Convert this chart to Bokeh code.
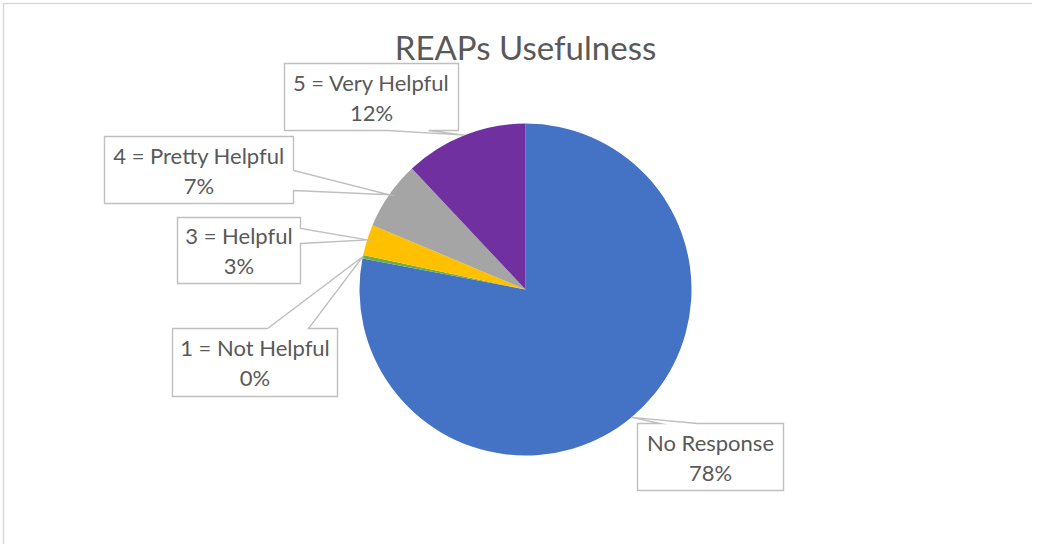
import math
from bokeh.plotting import figure
from bokeh.models import Range1d, ColumnDataSource, Label
from bokeh.embed import file_html
from bokeh.resources import INLINE
from bokeh.core.properties import value

# ---- data ----
categories = ["No Response", "1 = Not Helpful", "3 = Helpful", "4 = Pretty Helpful", "5 = Very Helpful"]
counts = [234, 1, 9, 20, 36]
colors = ["#4472C4", "#70AD47", "#FFC000", "#A5A5A5", "#7030A0"]
title_text = "REAPs Usefulness"

# ---- layout (reference pixel coordinates) ----
W, H = 1032, 544
CX, CY, R = 525, 289, 166
# box: left, top, right, bottom, wedge side, base start, base end
callouts = {
    "No Response": (637, 423, 783, 490, "top", 660, 697),
    "1 = Not Helpful": (172, 328, 337, 396, "top", 267, 308),
    "3 = Helpful": (177, 217, 300, 283, "right", 228, 243),
    "4 = Pretty Helpful": (104, 136, 293, 203, "right", 170, 190),
    "5 = Very Helpful": (284, 63, 458, 130, "bottom", 387, 428),
}
TEXT_COLOR = "#595959"
FONT = "Lato"


def Y(py):
    return H - py


p = figure(width=W, height=H, x_range=Range1d(0, W), y_range=Range1d(0, H),
           output_backend="svg", toolbar_location=None, x_axis_type=None, y_axis_type=None,
           min_border=0)
p.grid.visible = False
p.outline_line_color = None
p.background_fill_color = "white"
p.border_fill_color = "white"

# chart border (top & left visible)
p.line(x=[3, 3, W], y=[Y(H), Y(3), Y(3)], line_color="#D9D9D9", line_width=1.5)

total = sum(counts)
starts, ends, mids = [], [], []
acc = 0.0
for c in counts:
    a0 = acc / total * 2 * math.pi
    acc += c
    a1 = acc / total * 2 * math.pi
    starts.append(a0)
    ends.append(a1)
    mids.append((a0 + a1) / 2)

src = ColumnDataSource(dict(
    cat=categories, count=counts, color=colors,
    start=[math.pi / 2 - a1 for a1 in ends],
    end=[math.pi / 2 - a0 for a0 in starts],
))
p.wedge(x=CX, y=Y(CY), radius=R, radius_units="data", start_angle="start", end_angle="end",
        direction="anticlock", fill_color="color", line_color=None, source=src)

# callouts
xs, ys = [], []
tx, ty, tt = [], [], []
for cat, c, am in zip(categories, counts, mids):
    L, T, Rr, B, side, b1, b2 = callouts[cat]
    tipx = CX + R * math.sin(am)
    tipy = CY - R * math.cos(am)
    if side == "top":
        pts = [(L, T), (b1, T), (tipx, tipy), (b2, T), (Rr, T), (Rr, B), (L, B)]
    elif side == "right":
        pts = [(L, T), (Rr, T), (Rr, b1), (tipx, tipy), (Rr, b2), (Rr, B), (L, B)]
    else:
        pts = [(L, T), (Rr, T), (Rr, B), (b2, B), (tipx, tipy), (b1, B), (L, B)]
    xs.append([q[0] for q in pts])
    ys.append([Y(q[1]) for q in pts])
    mx = (L + Rr) / 2
    my = (T + B) / 2
    pct = "%d%%" % round(100 * c / total)
    tx += [mx, mx]
    ty += [Y(my - 15), Y(my + 15)]
    tt += [cat, pct]

p.patches(xs=xs, ys=ys, fill_color="white", line_color="#BFBFBF", line_width=1.4, line_join="miter")
p.text(x=tx, y=ty, text=tt, text_font=value(FONT), text_font_size="22px", text_color=TEXT_COLOR,
       text_align="center", text_baseline="middle")

p.add_layout(Label(x=CX, y=Y(46), text=title_text, text_font=FONT, text_font_size="33px",
                   text_color=TEXT_COLOR, text_align="center", text_baseline="middle"))

open("out.html", "w").write(file_html(p, INLINE))
